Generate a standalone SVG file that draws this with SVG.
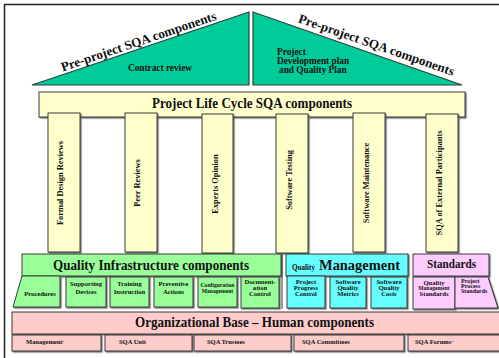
<svg xmlns="http://www.w3.org/2000/svg" width="499" height="358" viewBox="0 0 499 358">
  <style>
    .box { stroke: #3a3a3a; stroke-width: 1; }
    .tri { fill: #00CC99; stroke: #2f3f3a; stroke-width: 1.2; }
    .yel { fill: #FFFFCC; }
    .grn { fill: #99FF99; }
    .cyn { fill: #66FFFF; }
    .pnk { fill: #FFCCFF; }
    .sal { fill: #FFCCCC; }
    text { font-family: "Liberation Serif", "Times New Roman", serif; font-weight: bold; fill: #111; }
    .title { font-size: 14px; }
    .sm { font-size: 6.6px; text-anchor: middle; }
    .xs { font-size: 5.6px; text-anchor: middle; }
    .pil { font-size: 8.4px; text-anchor: middle; }
    .row { font-size: 6.5px; }
  </style>
  <defs>
    <filter id="sh" x="-10%" y="-10%" width="130%" height="130%">
      <feDropShadow dx="1.2" dy="1.2" stdDeviation="0.2" flood-color="#555" flood-opacity="0.8"/>
    </filter>
  </defs>

  <rect width="499" height="358" fill="#fff"/>
  <!-- outer frame (left and top edges fall inside the canvas) -->
  <path d="M4.5,358 V4.5 H499" fill="none" stroke="#222" stroke-width="1.5"/>

  <!-- roof: two pre-project wedges -->
  <g id="preproject-contract">
    <polygon class="tri" points="32,85 249,12 249,85"/>
    <text font-size="13" text-anchor="middle" textLength="163" lengthAdjust="spacingAndGlyphs" transform="translate(140,45.5) rotate(-18.6)">Pre-project SQA components</text>
    <text font-size="9.3" text-anchor="middle" x="160" y="70.5">Contract review</text>
  </g>
  <g id="preproject-plan">
    <polygon class="tri" points="253,12 253,85 462,85"/>
    <text font-size="13" text-anchor="middle" textLength="164" lengthAdjust="spacingAndGlyphs" transform="translate(375,49) rotate(19.1)">Pre-project SQA components</text>
    <text font-size="9.3" x="277" y="55">Project</text>
    <text font-size="9.3" x="277" y="64">Development plan</text>
    <text font-size="9.3" x="279" y="72.5">and Quality Plan</text>
  </g>

  <!-- beam -->
  <g id="life-cycle">
    <rect class="box yel" x="39" y="92" width="426" height="25" filter="url(#sh)"/>
    <text class="title" x="152" y="108" textLength="200" lengthAdjust="spacingAndGlyphs">Project Life Cycle SQA components</text>
  </g>

  <!-- pillars -->
  <g id="formal-design-reviews">
    <rect class="box yel" x="48" y="113" width="32" height="139" filter="url(#sh)"/>
    <text class="pil" transform="translate(63,183) rotate(-90)">Formal Design Reviews</text>
  </g>
  <g id="peer-reviews">
    <rect class="box yel" x="125" y="113" width="32" height="139" filter="url(#sh)"/>
    <text class="pil" transform="translate(139.5,183) rotate(-90)">Peer Reviews</text>
  </g>
  <g id="experts-opinion">
    <rect class="box yel" x="202" y="114" width="31" height="139" filter="url(#sh)"/>
    <text class="pil" transform="translate(218,184) rotate(-90)">Experts Opinion</text>
  </g>
  <g id="software-testing">
    <rect class="box yel" x="276" y="114" width="32" height="139" filter="url(#sh)"/>
    <text class="pil" transform="translate(292,180) rotate(-90)">Software Testing</text>
  </g>
  <g id="software-maintenance">
    <rect class="box yel" x="353" y="113" width="32" height="139" filter="url(#sh)"/>
    <text class="pil" transform="translate(369,183) rotate(-90)">Software Maintenance</text>
  </g>
  <g id="external-participants">
    <rect class="box yel" x="426" y="114" width="32" height="138" filter="url(#sh)"/>
    <text class="pil" transform="translate(442,183) rotate(-90)">SQA of External Participants</text>
  </g>

  <!-- infrastructure block -->
  <g id="infrastructure">
    <rect class="box grn" x="22" y="254" width="259" height="22" filter="url(#sh)"/>
    <line x1="282" y1="254" x2="282" y2="309" stroke="#3a3a3a" stroke-width="1"/>
    <text class="title" x="53" y="270" font-size="15" textLength="196" lengthAdjust="spacingAndGlyphs">Quality Infrastructure components</text>
  </g>
  <g id="procedures">
    <polygon class="box grn" points="22,276 60,276 60,307 13,307" filter="url(#sh)"/>
    <text class="sm" x="40" y="296">Procedures</text>
  </g>
  <g id="supporting-devices">
    <rect class="box grn" x="66" y="277" width="40" height="30" filter="url(#sh)"/>
    <text class="sm" x="86" y="286">Supporting</text>
    <text class="sm" x="86" y="294">Devices</text>
  </g>
  <g id="training-instruction">
    <rect class="box grn" x="110" y="277" width="39" height="30" filter="url(#sh)"/>
    <text class="sm" x="129.5" y="286">Training</text>
    <text class="sm" x="129.5" y="294">Instruction</text>
  </g>
  <g id="preventive-actions">
    <rect class="box grn" x="154" y="277" width="39" height="30" filter="url(#sh)"/>
    <text class="sm" x="173.5" y="286">Preventive</text>
    <text class="sm" x="173.5" y="294">Actions</text>
  </g>
  <g id="configuration-management">
    <rect class="box grn" x="198" y="277" width="39" height="30" filter="url(#sh)"/>
    <text class="xs" x="217.5" y="287">Configuration</text>
    <text class="xs" x="217.5" y="293">Management</text>
  </g>
  <g id="documentation-control">
    <rect class="box grn" x="241" y="277" width="38" height="31" filter="url(#sh)"/>
    <text class="sm" x="260" y="284">Document-</text>
    <text class="sm" x="260" y="290">ation</text>
    <text class="sm" x="260" y="296">Control</text>
  </g>

  <!-- quality management block -->
  <g id="quality-management">
    <rect class="box cyn" x="286" y="254" width="122" height="22" filter="url(#sh)"/>
    <text x="292" y="270" font-size="8.5" textLength="23" lengthAdjust="spacingAndGlyphs">Quality</text>
    <text x="319" y="270" font-size="14" textLength="81" lengthAdjust="spacingAndGlyphs">Management</text>
  </g>
  <g id="project-progress-control">
    <rect class="box cyn" x="287" y="276" width="38" height="32" filter="url(#sh)"/>
    <text class="sm" x="306" y="284" font-size="6.3">Project</text>
    <text class="sm" x="306" y="290" font-size="6.3">Progress</text>
    <text class="sm" x="306" y="296" font-size="6.3">Control</text>
  </g>
  <g id="software-quality-metrics">
    <rect class="box cyn" x="330" y="277" width="36" height="31" filter="url(#sh)"/>
    <text class="sm" x="348" y="284" font-size="6.3">Software</text>
    <text class="sm" x="348" y="290" font-size="6.3">Quality</text>
    <text class="sm" x="348" y="296" font-size="6.3">Metrics</text>
  </g>
  <g id="software-quality-costs">
    <rect class="box cyn" x="371" y="277" width="36" height="31" filter="url(#sh)"/>
    <text class="sm" x="389" y="284" font-size="6.3">Software</text>
    <text class="sm" x="389" y="290" font-size="6.3">Quality</text>
    <text class="sm" x="389" y="296" font-size="6.3">Costs</text>
  </g>

  <!-- standards block -->
  <g id="standards">
    <rect class="box pnk" x="413" y="254" width="76" height="22" filter="url(#sh)"/>
    <text x="427" y="268" font-size="12" textLength="49" lengthAdjust="spacingAndGlyphs">Standards</text>
  </g>
  <g id="quality-management-standards">
    <rect class="box pnk" x="413" y="277" width="42" height="32" filter="url(#sh)"/>
    <text class="sm" x="434" y="284.5" font-size="5.6">Quality</text>
    <text class="xs" x="434" y="290" font-size="4.6">Management</text>
    <text class="sm" x="434" y="295.5" font-size="5.6">Standards</text>
  </g>
  <g id="project-process-standards">
    <polygon class="box pnk" points="455,277 488,277 498,308 455,308" filter="url(#sh)"/>
    <text x="461" y="282.5" font-size="6">Project</text>
    <text x="461" y="287.5" font-size="6">Process</text>
    <text x="461" y="292.5" font-size="6">Standards</text>
  </g>

  <!-- organizational base -->
  <g id="organizational-base">
    <rect class="box sal" x="12" y="312" width="492" height="22" filter="url(#sh)"/>
    <text class="title" x="135" y="327" font-size="14.5" textLength="239" lengthAdjust="spacingAndGlyphs">Organizational Base – Human components</text>
  </g>
  <g id="management">
    <rect class="box sal" x="12" y="335" width="89" height="16" filter="url(#sh)"/>
    <text class="row" x="26" y="343.5">Management·</text>
  </g>
  <g id="sqa-unit">
    <rect class="box sal" x="105" y="335" width="87" height="16" filter="url(#sh)"/>
    <text class="row" x="119" y="343.5">SQA Unit</text>
  </g>
  <g id="sqa-trustees">
    <rect class="box sal" x="194" y="335" width="97" height="16" filter="url(#sh)"/>
    <text class="row" x="207" y="343.5">SQA Trustees</text>
  </g>
  <g id="sqa-committees">
    <rect class="box sal" x="294" y="335" width="110" height="16" filter="url(#sh)"/>
    <text class="row" x="302" y="343.5">SQA Committees</text>
  </g>
  <g id="sqa-forums">
    <rect class="box sal" x="408" y="335" width="96" height="16" filter="url(#sh)"/>
    <text class="row" x="415" y="343.5">SQA Forums·</text>
  </g>

  <!-- no connectors in this drawing -->
  <g id="connectors"/>
</svg>
